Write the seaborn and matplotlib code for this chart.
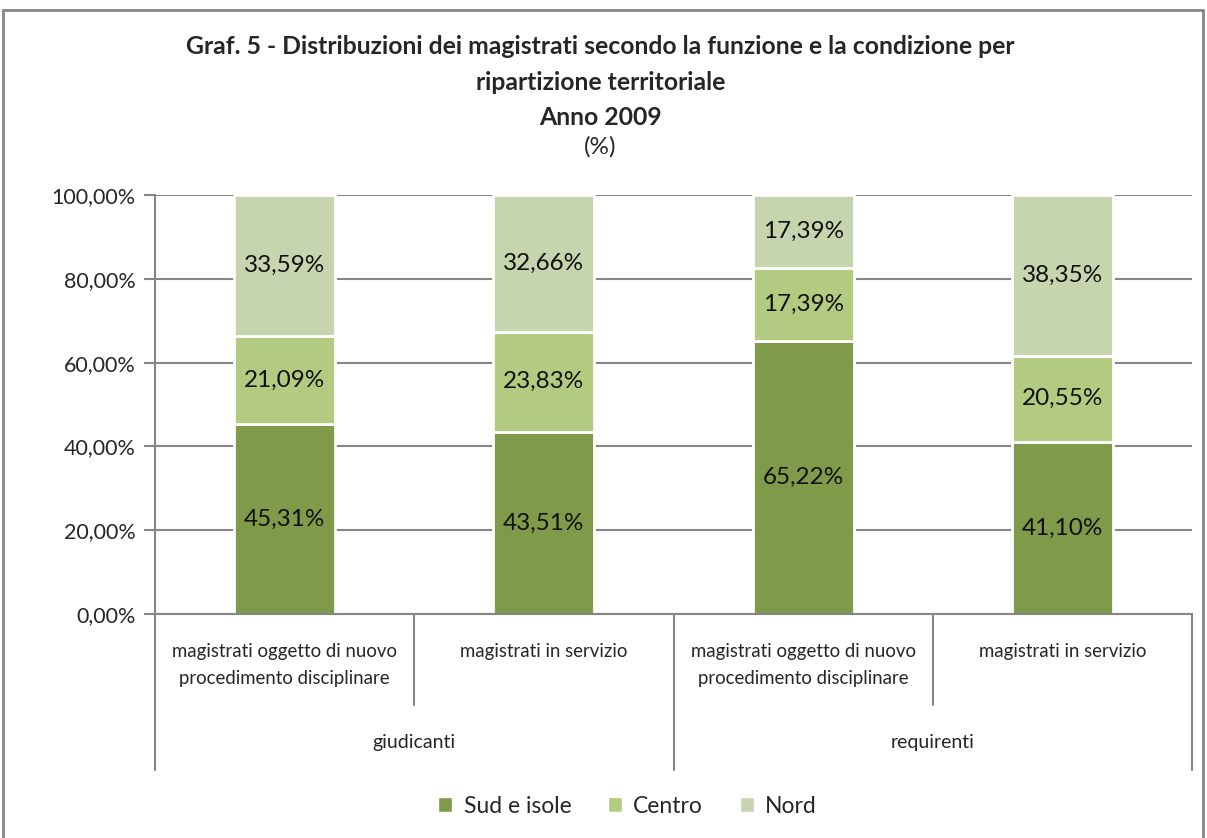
import numpy as np
import pandas as pd
import matplotlib.pyplot as plt
import seaborn as sns
from matplotlib.patches import Rectangle, Patch
from matplotlib.lines import Line2D

categorie = ['magistrati oggetto di nuovo\nprocedimento disciplinare', 'magistrati in servizio',
             'magistrati oggetto di nuovo\nprocedimento disciplinare', 'magistrati in servizio']
gruppi = ['giudicanti', 'requirenti']
sud = [45.31, 43.51, 65.22, 41.10]
centro = [21.09, 23.83, 17.39, 20.55]
nord = [33.59, 32.66, 17.39, 38.35]
serie = ['Sud e isole', 'Centro', 'Nord']
colori = ['#7F9A48', '#B3CB80', '#C6D5AD']

sns.set_theme(style='white')
plt.rcParams['font.family'] = ['Lato', 'DejaVu Sans']

fig = plt.figure(figsize=(12.07, 8.38), dpi=100)
ax = fig.add_axes([0.1284, 0.2673, 0.8592, 0.5])

df = pd.DataFrame({'pos': [0, 1, 2, 3], 'sud': sud, 'centro': centro, 'nord': nord})
df['pos'] = df['pos'].astype(str)
bottom = np.zeros(len(df))
for col, nome, c in zip(['sud', 'centro', 'nord'], serie, colori):
    sns.barplot(data=df, x='pos', y=col, color=c, width=0.39, bottom=bottom,
                edgecolor='white', linewidth=2, ax=ax, saturation=1)
    for i, v in enumerate(df[col]):
        ax.text(i, bottom[i] + v / 2, f'{v:.2f}%'.replace('.', ','), ha='center', va='center',
                fontsize=17.5, color='#111111')
    bottom = bottom + df[col].values

ax.set_xlim(-0.5, 3.5)
ax.set_ylim(0, 100)
ax.set_yticks([0, 20, 40, 60, 80, 100])
ax.set_yticklabels([f'{t},00%' for t in [0, 20, 40, 60, 80, 100]], fontsize=15.5)
ax.yaxis.grid(True, color='#868686', linewidth=1.5)
ax.set_axisbelow(True)
ax.tick_params(axis='y', length=8, width=1.5, color='#868686', left=True, pad=6)
ax.set_xticks([])
ax.set_xlabel('')
ax.set_ylabel('')
for s in ['top', 'right']:
    ax.spines[s].set_visible(False)
for s in ['left', 'bottom']:
    ax.spines[s].set_color('#868686')
    ax.spines[s].set_linewidth(1.5)

tr = ax.get_xaxis_transform()
for x, y0 in [(-0.5, -0.372), (0.5, -0.217), (1.5, -0.372), (2.5, -0.217), (3.5, -0.372)]:
    ax.add_line(Line2D([x, x], [0, y0], transform=tr, color='#868686', lw=1.5, clip_on=False))
for i, lab in enumerate(categorie):
    ax.text(i, -0.07, lab, transform=tr, ha='center', va='top', fontsize=13.4, linespacing=1.7)
for i, g in enumerate(gruppi):
    ax.text(0.5 + 2 * i, -0.307, g, transform=tr, ha='center', va='center', fontsize=14)

fig.text(0.4975, 0.958, 'Graf. 5 - Distribuzioni dei magistrati secondo la funzione e la condizione per\n'
         'ripartizione territoriale\nAnno 2009', ha='center', va='top', fontsize=17.8,
         fontweight='bold', linespacing=1.66)
fig.text(0.4975, 0.825, '(%)', ha='center', va='center', fontsize=17.5)

handles = [Patch(facecolor=c, label=n) for c, n in zip(colori, serie)]
fig.legend(handles=handles, loc='center', bbox_to_anchor=(0.52, 0.038), ncol=3, frameon=False,
           fontsize=16.5, handlelength=0.6, handleheight=0.6, columnspacing=1.6, handletextpad=0.5)

fig.patches.append(Rectangle((3 / 1207, -0.01), 1200 / 1207, 1 - 10 / 838 + 0.01, transform=fig.transFigure,
                             fill=False, edgecolor='#868686', linewidth=2))

fig.savefig('out.png', dpi=100)
